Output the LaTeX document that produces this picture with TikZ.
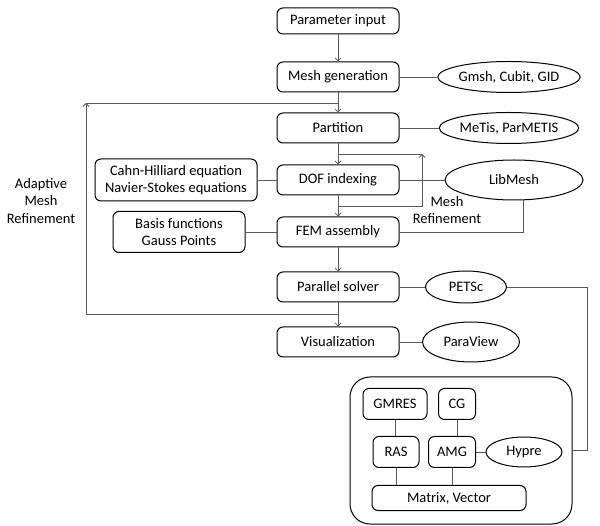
\documentclass[tikz,border=0pt]{standalone}
\usepackage{fontspec}
\setmainfont{Carlito}
\usetikzlibrary{arrows.meta,shapes.geometric}
\begin{document}
\begin{tikzpicture}[x=1pt,y=-1pt,
 lbl/.style={font=\fontsize{14.5}{17.5}\selectfont,align=center},
 box/.style={lbl,draw,rounded corners=6pt,line width=1pt,minimum width=122pt,minimum height=30pt,inner sep=0pt},
 ell/.style={lbl,draw,ellipse,line width=1pt,inner sep=0pt},
 conn/.style={draw=gray!70!black,line width=0.8pt},
 arr/.style={conn,-{Straight Barb[length=3pt,width=6pt]}}]
\useasboundingbox (0,0) rectangle (600,526);
% main column
\node[box,minimum height=26pt] (pi) at (338,21) {Parameter input};
\node[box] (mg) at (338,77) {Mesh generation};
\node[box] (pa) at (338,128) {Partition};
\node[box] (dof) at (338,180) {DOF indexing};
\node[box] (fem) at (338,232) {FEM assembly};
\node[box] (ps) at (338,287) {Parallel solver};
\node[box] (vis) at (338,342) {Visualization};
% ellipses
\node[ell,minimum width=138pt,minimum height=31pt] (gm) at (509,77) {Gmsh, Cubit, GID};
\node[ell,minimum width=138pt,minimum height=31pt] (me) at (509,128) {MeTis, ParMETIS};
\node[ell,minimum width=138pt,minimum height=40pt] (lib) at (514,180) {LibMesh};
\node[ell,minimum width=81pt,minimum height=32pt] (pets) at (466,287) {PETSc};
\node[ell,minimum width=97pt,minimum height=40pt] (para) at (471,342) {ParaView};
% left boxes
\node[box,minimum width=162pt,minimum height=42pt] (ch) at (176,180) {Cahn-Hilliard equation\\Navier-Stokes equations};
\node[box,minimum width=132pt,minimum height=41pt] (bf) at (179,232) {Basis functions\\Gauss Points};
% labels
\node[lbl] (aml) at (41,201) {Adaptive\\Mesh\\Refinement};
\node[lbl] (mrl) at (447,210) {Mesh\\Refinement};
% big box
\node[draw,rounded corners=20pt,line width=1pt,minimum width=222pt,minimum height=147pt,inner sep=0pt] (big) at (461,450.5) {};
\node[box,minimum width=64pt,minimum height=31pt] (gmres) at (395,404) {GMRES};
\node[box,minimum width=37pt,minimum height=31pt] (cg) at (457,404) {CG};
\node[box,minimum width=46pt,minimum height=31pt] (ras) at (396,452) {RAS};
\node[box,minimum width=47pt,minimum height=31pt] (amg) at (452,452) {AMG};
\node[ell,minimum width=76pt,minimum height=30pt] (hyp) at (524,452) {Hypre};
\node[box,minimum width=154pt,minimum height=25pt] (mv) at (449,498) {Matrix, Vector};
% coordinates
\coordinate (tl) at (86,103);
\coordinate (bl) at (86,314);
\coordinate (mrt) at (422,154);
\coordinate (mrb) at (422,206);
\coordinate (lc) at (523,232);
\coordinate (pc) at (587,450.5);
% main arrows
\draw[arr] (pi) -- (mg);
\draw[arr] (mg) -- (pa);
\draw[arr] (pa) -- (dof);
\draw[arr] (dof) -- (fem);
\draw[arr] (fem) -- (ps);
\draw[arr] (ps) -- (vis);
% adaptive loop
\draw[arr] (ps.south |- bl) -- (bl) -- (tl);
\draw[conn] (tl) -- (pa.north |- tl);
% mesh refinement loop
\draw[arr] (fem.north |- mrb) -- (mrb) -- (mrt);
\draw[conn] (mrt) -- (pa.south |- mrt);
% side connections
\draw[conn] (mg) -- (gm);
\draw[conn] (pa) -- (me);
\draw[conn] (dof) -- (lib);
\draw[conn] (fem.east) -- (lc) -- (lc |- lib.south);
\draw[conn] (ch) -- (dof);
\draw[conn] (bf) -- (fem);
\draw[conn] (ps) -- (pets);
\draw[conn] (vis) -- (para);
\draw[conn] (pets.east) -| (pc) -- (big.east);
% inner
\draw[conn] (gmres.south) -- (gmres.south |- ras.north);
\draw[conn] (ras.south) -- (ras.south |- mv.north);
\draw[conn] (cg.south) -- (cg.south |- amg.north);
\draw[conn] (amg.south) -- (amg.south |- mv.north);
\draw[conn] (amg) -- (hyp);
\end{tikzpicture}
\end{document}
